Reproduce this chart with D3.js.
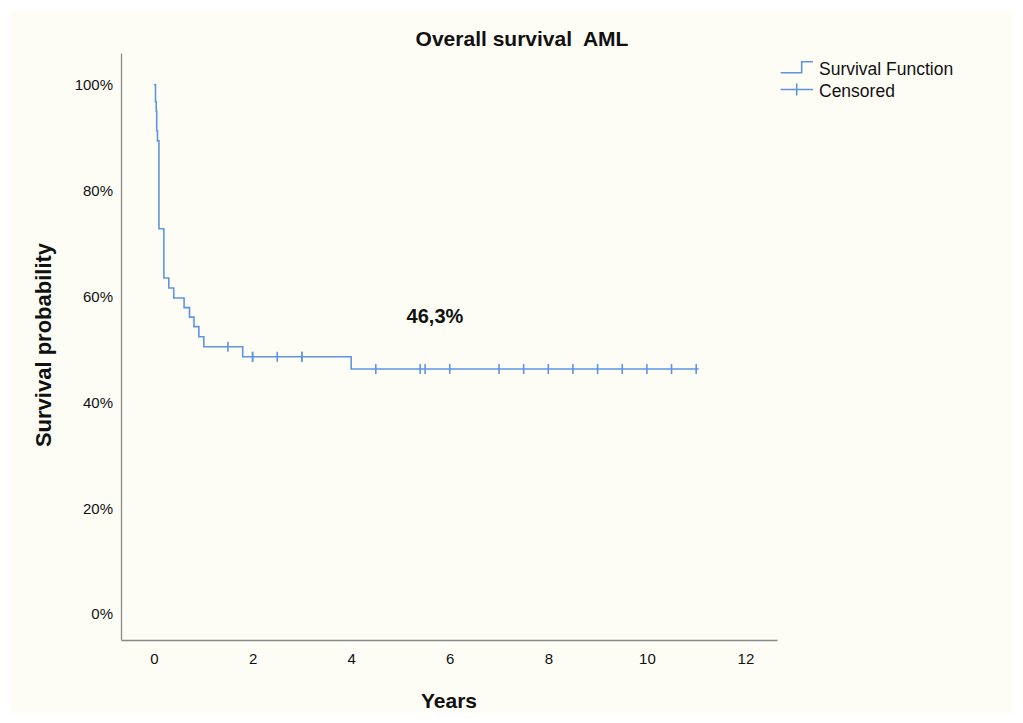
<!DOCTYPE html>
<html>
<head>
<meta charset="utf-8">
<script src="https://cdn.jsdelivr.net/npm/d3@7"></script>
<style>
  body { margin: 0; background: #fff; }
  text { font-family: "Liberation Sans", Arial, sans-serif; fill: #111; white-space: pre; }
</style>
</head>
<body>
<script>
// Kaplan-Meier steps: at eventTimes[i] the survival drops to eventSurv[i] (%)
const eventTimes = [0, 0.03, 0.045, 0.055, 0.07, 0.10, 0.20, 0.30, 0.40, 0.61, 0.72, 0.81, 0.91, 1.01, 1.80, 4.0];
const eventSurv  = [100, 96.8, 95.0, 91.3, 89.4, 72.8, 63.5, 61.6, 59.7, 57.9, 56.1, 54.3, 52.4, 50.5, 48.6, 46.3];
const lastFollowUp = 11.05;
const censoredTimes = [1.5, 2.0, 2.0, 2.5, 3.0, 3.0, 4.5, 5.4, 5.5, 6.0, 7.0, 7.5, 8.0, 8.5, 9.0, 9.5, 10.0, 10.5, 11.0];
const xTicks = [0, 2, 4, 6, 8, 10, 12];
const yTicks = [0, 20, 40, 60, 80, 100];
const titleText = "Overall survival  AML";
const annotation = "46,3%";

const W = 1023, H = 723;
const blue = "#5e95e2";
const axisGray = "#8a8a8a";

const svg = d3.select("body").append("svg")
    .attr("width", W)
    .attr("height", H);

svg.append("rect")
    .attr("x", 10).attr("y", 10)
    .attr("width", W - 20).attr("height", H - 20)
    .attr("fill", "#fdfdf6");

const x = d3.scaleLinear().domain([-0.67, 12.64]).range([121, 777]);
const y = d3.scaleLinear().domain([-4.9, 106]).range([640, 53]);

// axes (no tick marks, just labels)
const xAxis = svg.append("g")
    .attr("transform", `translate(0,${y.range()[0]})`)
    .call(d3.axisBottom(x).tickValues(xTicks).tickSize(0).tickPadding(13).tickFormat(d3.format("d")));
const yAxis = svg.append("g")
    .attr("transform", `translate(${x.range()[0]},0)`)
    .call(d3.axisLeft(y).tickValues(yTicks).tickSize(0).tickPadding(8).tickFormat(d => d + "%"));

for (const g of [xAxis, yAxis]) {
  g.select(".domain").attr("stroke", axisGray).attr("stroke-width", 1.3);
  g.selectAll("text")
      .attr("font-family", "Liberation Sans, Arial, sans-serif")
      .attr("font-size", 15)
      .attr("fill", "#222");
}

// survival curve
const stepData = eventTimes.map((t, i) => [t, eventSurv[i]]);
stepData.push([lastFollowUp, eventSurv[eventSurv.length - 1]]);

const line = d3.line()
    .x(d => x(d[0]))
    .y(d => y(d[1]))
    .curve(d3.curveStepAfter);

svg.append("path")
    .datum(stepData)
    .attr("fill", "none")
    .attr("stroke", blue)
    .attr("stroke-width", 1.6)
    .attr("d", line);

// censored ticks
function survAt(t) {
  let s = eventSurv[0];
  for (let i = 0; i < eventTimes.length; i++) if (eventTimes[i] <= t) s = eventSurv[i];
  return s;
}

svg.append("g")
    .selectAll("line")
    .data(censoredTimes)
    .join("line")
      .attr("x1", d => x(d))
      .attr("x2", d => x(d))
      .attr("y1", d => y(survAt(d)) - 5)
      .attr("y2", d => y(survAt(d)) + 5)
      .attr("stroke", blue)
      .attr("stroke-width", 1.6);

// titles
svg.append("text")
    .attr("x", 522).attr("y", 46)
    .attr("text-anchor", "middle")
    .attr("font-size", 21).attr("font-weight", "bold")
    .text(titleText);

svg.append("text")
    .attr("x", 449).attr("y", 708)
    .attr("text-anchor", "middle")
    .attr("font-size", 21).attr("font-weight", "bold")
    .text("Years");

svg.append("text")
    .attr("transform", "translate(51,345) rotate(-90)")
    .attr("text-anchor", "middle")
    .attr("font-size", 22).attr("font-weight", "bold")
    .text("Survival probability");

svg.append("text")
    .attr("x", x(5.7)).attr("y", y(55))
    .attr("text-anchor", "middle")
    .attr("font-size", 20).attr("font-weight", "bold")
    .text(annotation);

// legend
const leg = svg.append("g");
leg.append("path")
    .attr("d", "M780.7,72.7H801.7V61.7H813")
    .attr("fill", "none").attr("stroke", blue).attr("stroke-width", 1.6);
leg.append("text").attr("x", 819).attr("y", 75).attr("font-size", 17.5).text("Survival Function");
leg.append("line")
    .attr("x1", 780.7).attr("x2", 813).attr("y1", 89.5).attr("y2", 89.5)
    .attr("stroke", blue).attr("stroke-width", 1.6);
leg.append("line")
    .attr("x1", 796.7).attr("x2", 796.7).attr("y1", 83.5).attr("y2", 95.5)
    .attr("stroke", blue).attr("stroke-width", 1.6);
leg.append("text").attr("x", 819).attr("y", 97).attr("font-size", 17.5).text("Censored");
</script>
</body>
</html>
